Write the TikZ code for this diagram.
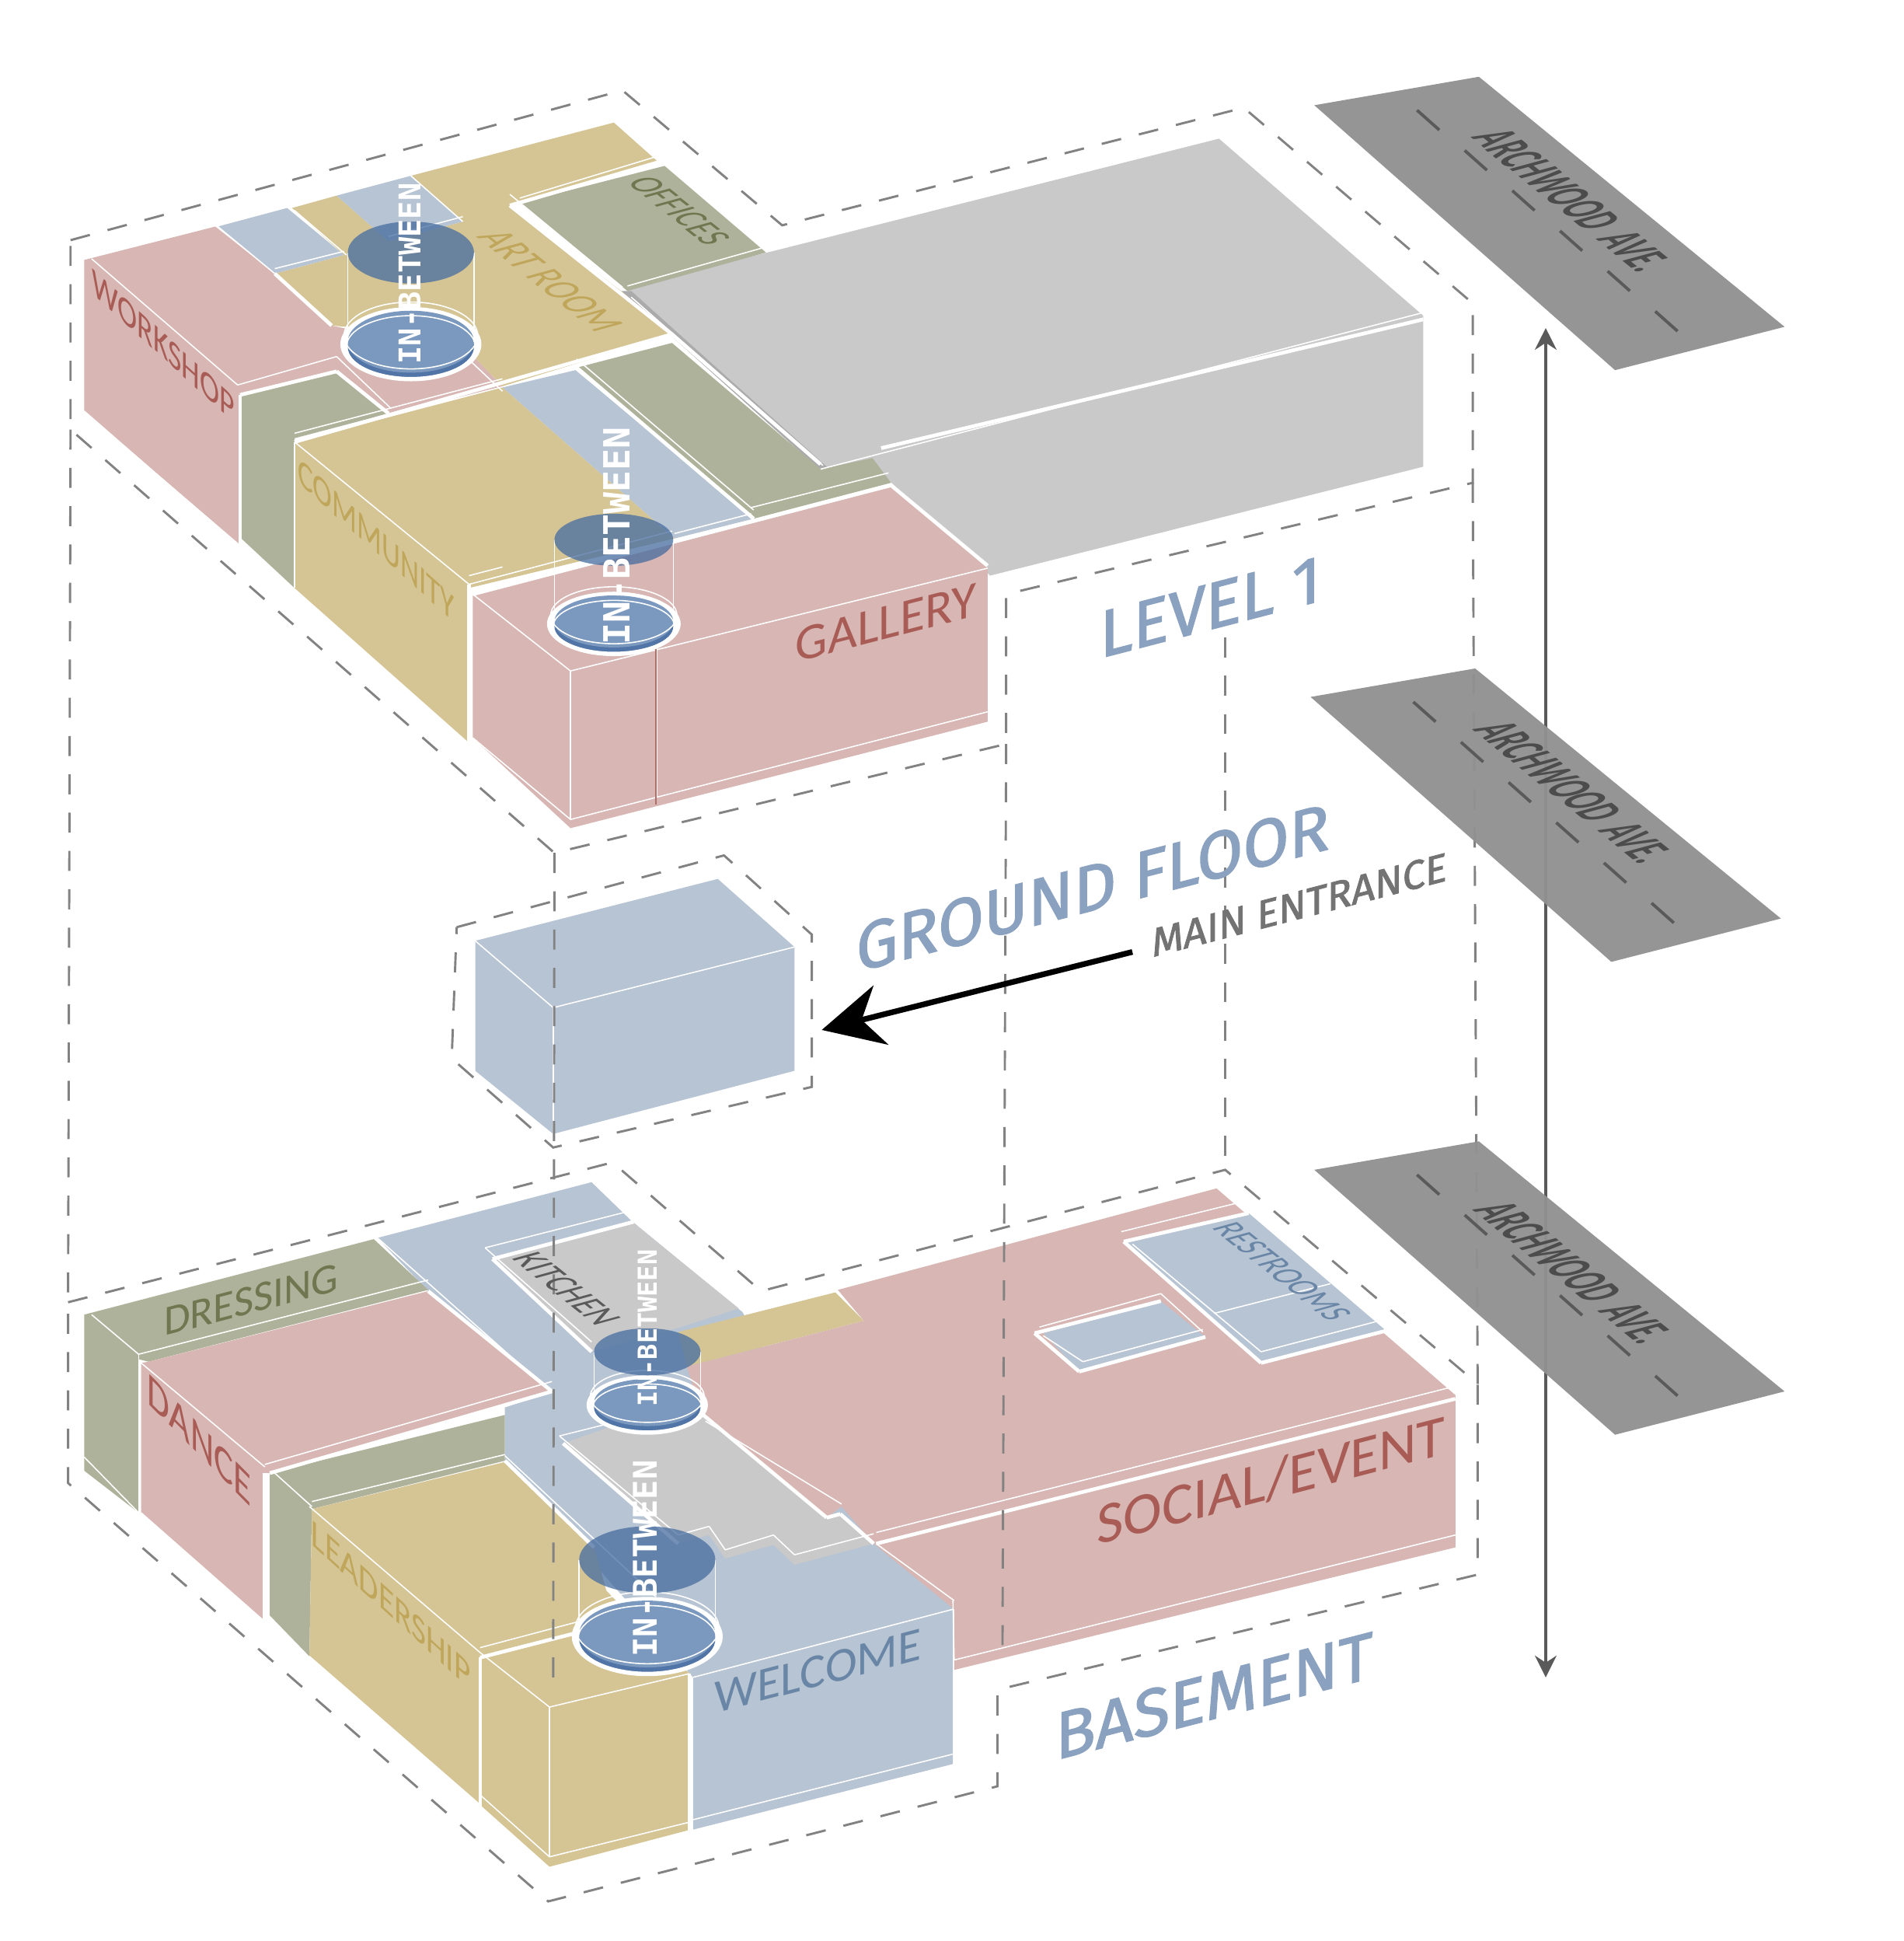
\documentclass[tikz,border=0pt]{standalone}
\usepackage{fontspec}
\usetikzlibrary{arrows.meta}
\newfontfamily\labelfont{Carlito}
\newfontfamily\titlefont[FakeBold=1.6]{Fira Sans}
\newfontfamily\benchfont{DejaVu Sans Mono}
\definecolor{pinkcol}{RGB}{215,182,179}
\definecolor{sandcol}{RGB}{213,197,149}
\definecolor{bluecol}{RGB}{183,196,211}
\definecolor{olivecol}{RGB}{175,178,154}
\definecolor{greycol}{RGB}{201,201,201}
\definecolor{roadcol}{RGB}{145,145,145}
\definecolor{dashcol}{RGB}{130,130,130}
\definecolor{discol}{RGB}{123,153,191}
\definecolor{lidcol}{RGB}{70,108,160}
\definecolor{titlecol}{RGB}{138,161,191}
\definecolor{redtext}{RGB}{168,92,85}
\definecolor{sandtext}{RGB}{191,166,90}
\definecolor{olivetext}{RGB}{111,118,80}
\definecolor{bluetext}{RGB}{106,134,166}
\definecolor{greytext}{RGB}{90,90,90}
\begin{document}
\begin{tikzpicture}[
    x=0.01cm, y=-0.01cm,
    outline/.style={dashcol, line width=0.52pt, dash pattern=on 4.6pt off 4.2pt},
    rim/.style={white, line width=0.85pt},
    edge/.style={white, line width=0.28pt},
    wallname/.style={font=\labelfont\fontsize{9}{9}\selectfont},
    frontname/.style={yslant=0.26},
    floorname/.style={cm={0.48,-0.38,0.8,0.22,(0,0)}},
    bench/.style={text=white, rotate=90},
    title/.style={font=\titlefont\fontsize{15.3}{15.3}\selectfont, text=titlecol, yslant=0.26},
]
\useasboundingbox (0,0) rectangle (1538,1568);

% level 1
\fill[greycol] (505,233) -- (985,112) -- (1150,255) -- (1150,377) -- (800,465) -- (715,385) -- (663,379) -- cycle;
\fill[greycol!85!black] (502,235) -- (510,235) -- (668,377) -- (663,380) -- cycle;
\fill[pinkcol] (68,210) -- (174,183) -- (222,221) -- (268,263) -- (382,287) -- (406,312) -- (314,335) -- (272,300) -- (194,319) -- (194,440) -- (68,332) -- cycle;
\fill[sandcol] (236,168) -- (272,158) -- (314,195) -- (374,179) -- (332,142) -- (496,99) -- (532,131) -- (412,166) -- (503,236) -- (543,270) -- (406,312) -- (382,287) -- (370,272) -- (268,263) -- (222,221) -- (278,206) -- cycle;
\fill[bluecol] (176,183) -- (232,168) -- (278,206) -- (222,221) -- cycle;
\fill[bluecol] (272,158) -- (332,142) -- (374,179) -- (314,195) -- cycle;
\fill[olivecol] (420,164) -- (537,134) -- (619,204) -- (507,235) -- cycle;
\fill[olivecol] (466,297) -- (543,277) -- (663,379) -- (705,370) -- (720,390) -- (609,419) -- cycle;
\fill[bluecol] (406,313) -- (465,299) -- (609,419) -- (545,435) -- cycle;
\fill[sandcol] (238,357) -- (406,313) -- (545,435) -- (379,475) -- (379,600) -- (238,475) -- cycle;
\fill[olivecol] (202,318) -- (272,300) -- (314,334) -- (238,354) -- (238,475) -- (195,435) -- (195,319) -- cycle;
\fill[pinkcol] (382,480) -- (720,392) -- (798,459) -- (798,583) -- (461,669) -- (382,596) -- cycle;
\foreach \ax/\ay/\bx/\by in {68/332/192/440, 74/209/192/311, 192/311/272/288, 272/288/316/330, 176/183/222/221, 332/142/374/179, 372/284/406/316,
    238/357/379/472, 379/472/543/429, 379/465/406/458, 238/350/406/306, 420/160/532/126, 412/157/503/232, 507/231/617/200, 466/290/609/412, 545/431/607/415,
    222/217/278/203, 314/191/374/175, 238/170/280/206, 510/240/665/376, 663/379/1148/253, 382/480/461/542, 461/542/798/459, 461/542/461/662, 382/596/461/662, 461/662/798/575, 531/521/531/644, 238/357/238/475, 607/410/718/382} {
    \draw[edge] (\ax,\ay) -- (\bx,\by);
}
\foreach \ax/\ay/\bx/\by in {194/319/194/440, 194/319/272/300, 272/300/314/334, 238/357/543/270, 222/221/268/263, 412/166/532/131, 412/166/543/270, 543/270/663/375,
    466/297/609/419, 379/472/379/600, 382/480/720/392, 720/392/798/457, 712/362/1150/258} {
    \draw[rim] (\ax,\ay) -- (\bx,\by);
}
\draw[redtext!80!pinkcol, line width=0.5pt] (530,524) -- (530,650);

% ground floor
\fill[bluecol] (384,760) -- (580,710) -- (642,765) -- (642,865) -- (447,916) -- (384,865) -- cycle;
\draw[edge] (384,760) -- (447,814) -- (642,765);
\draw[edge] (447,814) -- (447,916);

% basement
\fill[bluecol] (305,1000) -- (478,955) -- (510,986) -- (600,1060) -- (700,1240) -- (770,1298) -- (770,1425) -- (560,1478) -- (560,1355) -- (408,1180) -- (408,1137) -- (446,1124) -- (346,1043) -- cycle;
\fill[sandcol] (548,1076) -- (675,1044) -- (698,1067) -- (555,1104) -- cycle;
\fill[pinkcol] (555,1104) -- (698,1067) -- (677,1042) -- (983,960) -- (1176,1127) -- (1176,1250) -- (771,1349) -- (771,1300) -- (706,1247) -- (680,1217) -- (668,1226) -- (567,1142) -- cycle;
\fill[greycol] (398,1017) -- (512,988) -- (597,1057) -- (550,1072) -- (478,1092) -- cycle;
\fill[greycol] (455,1166) -- (506,1148) -- (567,1142) -- (668,1226) -- (679,1223) -- (706,1247) -- (642,1264) -- (625,1248) -- (586,1259) -- (573,1240) -- (548,1247) -- cycle;
\fill[olivecol] (68,1062) -- (302,1001) -- (346,1042) -- (120,1100) -- (112,1098) -- (112,1222) -- (68,1188) -- cycle;
\fill[pinkcol] (120,1100) -- (346,1043) -- (446,1124) -- (218,1190) -- (214,1190) -- (214,1310) -- (114,1222) -- (114,1101) -- cycle;
\fill[olivecol] (218,1190) -- (408,1143) -- (408,1180) -- (252,1219) -- (250,1338) -- (218,1305) -- cycle;
\fill[sandcol] (252,1219) -- (408,1181) -- (480,1250) -- (490,1285) -- (548,1345) -- (558,1352) -- (558,1478) -- (444,1508) -- (388,1458) -- (250,1338) -- cycle;
\fill[bluecol] (908,1003) -- (1009,980) -- (1120,1075) -- (1019,1101) -- cycle;
\fill[bluecol] (843,1077) -- (938,1051) -- (974,1080) -- (872,1108) -- cycle;
\foreach \ax/\ay/\bx/\by in {68/1177/112/1222, 74/1062/112/1094, 112/1094/346/1034, 112/1094/112/1222, 114/1222/214/1310, 114/1101/214/1185, 214/1183/446/1116,
    222/1190/252/1217, 252/1213/408/1175, 250/1217/388/1335, 250/1338/388/1458, 388/1331/505/1300, 388/1335/444/1379, 444/1379/557/1352, 444/1379/444/1500, 388/1450/444/1500, 444/1500/557/1472,
    305/1000/440/1120, 408/1176/530/1290, 392/1008/510/978, 392/1008/478/1084, 500/1148/452/1160, 452/1160/548/1240, 548/1240/573/1233, 573/1233/586/1252, 586/1252/625/1240, 625/1240/642/1256, 642/1256/706/1239,
    560/1355/770/1300, 770/1293/771/1341, 708/1238/1171/1121, 771/1341/1176/1240, 560/1470/770/1417, 570/1148/680/1215, 708/1247/771/1293,
    981/1061/1075/1037, 906/995/1007/970, 915/1005/1019/1092, 1019/1092/1118/1066, 840/1072/938/1045, 938/1045/972/1076, 843/1079/875/1100, 875/1100/972/1074} {
    \draw[edge] (\ax,\ay) -- (\bx,\by);
}
\foreach \ax/\ay/\bx/\by in {214/1190/214/1310, 218/1190/446/1124, 346/1043/446/1124, 388/1339/388/1460, 388/1339/470/1318, 557/1352/557/1480, 408/1180/480/1250,
    708/1247/1176/1130, 567/1142/668/1226, 668/1226/679/1223, 679/1223/706/1247, 398/1017/512/987, 398/1017/478/1092, 908/1003/1009/980, 908/1003/1019/1101, 836/1077/938/1051, 836/1077/872/1108, 872/1108/974/1080, 1019/1101/1120/1075, 455/1166/548/1247} {
    \draw[rim] (\ax,\ay) -- (\bx,\by);
}

% in-between discs
\foreach \cx/\ty/\by/\rx/\ry in {332/204/276/51/25, 496/436/502/48/21, 523/1092/1133/43/19, 523/1260/1320/55/27} {
    \fill[white] (\cx,\by+2) ellipse [x radius=\rx+6, y radius=\ry+5];
    \fill[lidcol!80!discol] (\cx,\by+4) ellipse [x radius=\rx, y radius=\ry];
    \fill[discol] (\cx,\by) ellipse [x radius=\rx, y radius=\ry];
    \draw[edge] (\cx,\by-5) ellipse [x radius=\rx+3, y radius=\ry+2];
    \draw[edge] (\cx,\by+4) ellipse [x radius=\rx+1, y radius=\ry];
    \draw[edge] (\cx-\rx,\ty) -- (\cx-\rx,\by);
    \draw[edge] (\cx+\rx,\ty) -- (\cx+\rx,\by);
    \fill[lidcol, opacity=0.75] (\cx,\ty) ellipse [x radius=\rx, y radius=\ry];
}

% dashed outlines and links
\draw[outline] (57,194) -- (503,73) -- (632,182) -- (1005,87) -- (1190,245) -- (1190,390) -- (813,480) -- (813,601) -- (448,689) -- (57,347) -- cycle;
\draw[outline] (369,749) -- (585,691) -- (656,755) -- (656,878) -- (447,927) -- (365,855) -- cycle;
\draw[outline] (55,1052) -- (495,939) -- (615,1043) -- (990,945) -- (1194,1118) -- (1194,1272) -- (806,1365) -- (806,1443) -- (443,1536) -- (55,1198) -- cycle;
\foreach \ax/\ay/\bx/\by in {57/347/55/1052, 448/689/447/1360, 813/601/810/1340, 990/515/990/945, 1190/390/1194/1118} {
    \draw[outline] (\ax,\ay) -- (\bx,\by);
}

% street
\coordinate (northEnd) at (1249,265);
\coordinate (southEnd) at (1249,1355);
\draw[{Stealth[length=5pt,width=5pt]}-{Stealth[length=5pt,width=5pt]}, greytext, line width=0.55pt] (northEnd) -- (southEnd);
\foreach \rx/\ry in {1062/85, 1059/563, 1062/945} {
    \fill[roadcol, opacity=0.96] (\rx,\ry) -- (\rx+133,\ry-23) -- (\rx+380,\ry+179) -- (\rx+243,\ry+214) -- cycle;
    \foreach \k in {0,...,5} {
        \draw[greytext, line width=0.7pt] (\rx+83+\k*38.5,\ry+4+\k*32.5) -- (\rx+101+\k*38.5,\ry+20+\k*32.5);
    }
}
\foreach \sx/\sy/\sn in {1271/162/streetA, 1272/640/streetB, 1272/1028/streetC} {
    \node[font=\labelfont\bfseries\fontsize{13}{13}\selectfont, text=black!70, cm={0.395,-0.32,1.0,0.27,(0,0)}] (\sn) at (\sx,\sy) {ARCHWOOD\hspace{0.18em} AVE.};
}

% entrance
\node[font=\titlefont\fontsize{9.3}{9.3}\selectfont, text=greytext!85!white, yslant=0.26] (entranceText) at (1050,731) {MAIN ENTRANCE};
\coordinate (entranceTail) at (915,769);
\coordinate (entranceHead) at (664,832);
\draw[-{Stealth[length=14pt,width=14pt]}, black, line width=1.3pt] (entranceTail) -- (entranceHead);

% rooms
\node[wallname, text=redtext, cm={0.75,-0.68,0,1,(0,0)}] (workshopText) at (132,279) {WORKSHOP};
\node[floorname, text=sandtext, font=\labelfont\fontsize{12.8}{12.8}\selectfont] (artText) at (445,227) {ART ROOM};
\node[floorname, text=olivetext, font=\labelfont\fontsize{11.7}{11.7}\selectfont] (officesText) at (549,170) {OFFICES};
\node[wallname, text=sandtext, cm={0.74,-0.66,0,1,(0,0)}] (communityText) at (304,436) {COMMUNITY};
\node[frontname, text=redtext, font=\labelfont\fontsize{11.7}{11.7}\selectfont] (galleryText) at (716,503) {GALLERY};
\node[frontname, text=olivetext, font=\labelfont\fontsize{9.8}{9.8}\selectfont] (dressingText) at (203,1050) {DRESSING};
\node[text=redtext, font=\labelfont\fontsize{11}{11}\selectfont, cm={0.76,-0.77,0,1,(0,0)}] (danceText) at (161,1163) {DANCE};
\node[wallname, text=sandtext, cm={0.82,-0.75,0,1,(0,0)}] (leadershipText) at (316,1296) {LEADERSHIP};
\node[floorname, text=greytext, font=\labelfont\fontsize{11.7}{11.7}\selectfont] (kitchenText) at (458,1041) {KITCHEN};
\node[floorname, text=bluetext, font=\labelfont\fontsize{11}{11}\selectfont] (restroomsText) at (1036,1027) {RESTROOMS};
\node[frontname, text=bluetext, font=\labelfont\fontsize{11}{11}\selectfont] (welcomeText) at (661,1350) {WELCOME};
\node[frontname, text=redtext, font=\labelfont\fontsize{13.4}{13.4}\selectfont] (socialText) at (1027,1196) {SOCIAL/EVENT};

% in-between names
\node[bench, font=\benchfont\bfseries\fontsize{6.9}{6.9}\selectfont] (benchA) at (331,221) {IN-BETWEEN};
\node[bench, font=\benchfont\bfseries\fontsize{8.3}{8.3}\selectfont] (benchB) at (498,433) {IN-BETWEEN};
\node[bench, font=\benchfont\bfseries\fontsize{6}{6}\selectfont] (benchC) at (523,1073) {IN-BETWEEN};
\node[bench, font=\benchfont\bfseries\fontsize{7.5}{7.5}\selectfont] (benchD) at (521,1259) {IN-BETWEEN};

% titles
\node[title] (levelText) at (978,490) {LEVEL 1};
\node[title] (groundText) at (883,717) {GROUND FLOOR};
\node[title] (basementText) at (981,1370) {BASEMENT};
\end{tikzpicture}
\end{document}
